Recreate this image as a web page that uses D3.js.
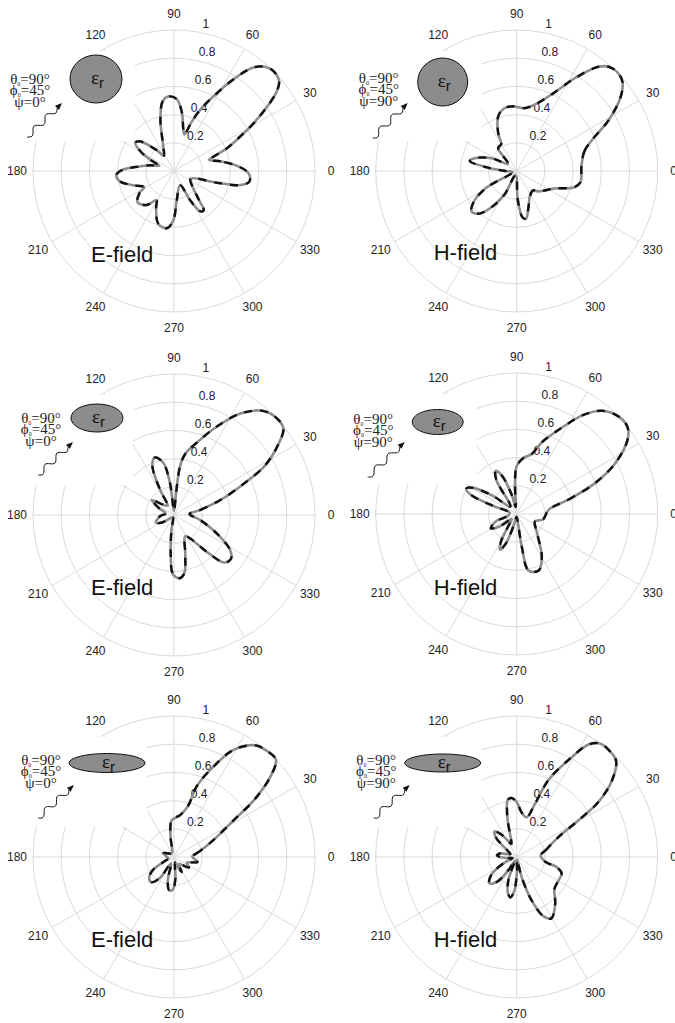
<!DOCTYPE html>
<html>
<head>
<meta charset="utf-8">
<script src="https://cdn.jsdelivr.net/npm/d3@7"></script>
<style>
  body { margin: 0; background: #fff; }
  svg { display: block; }
</style>
</head>
<body>
<div id="chart"></div>
<script>
// angle ticks and ring ticks of every polar panel
const angleTicks = [0, 30, 60, 90, 120, 150, 180, 210, 240, 270, 300, 330];
const ringTicks = [0.2, 0.4, 0.6, 0.8, 1];
const ringLabels = ['0.2', '0.4', '0.6', '0.8', '1'];
const fieldNames = ['E-field', 'H-field', 'E-field', 'H-field', 'E-field', 'H-field'];
const psiValues = [0, 90, 0, 90, 0, 90];
const theta0 = 90;
const phi0 = 45;

// normalised patterns, [angle in degrees, |F|]
const eCircle = [[4.6,.45],[11.5,.34],[17.8,.26],[20,.30],[23.3,.41],[27.5,.53],[31,.66],[34.8,.81],[37.7,.92],[40.5,.98],[45,1.0],[49,.98],[52.7,.92],[56.9,.78],[62.1,.60],[66.9,.47],[70.3,.37],[74,.27],[77.2,.30],[82.4,.42],[87.8,.51],[94.4,.53],[99.3,.50],[104.7,.38],[113.7,.19],[123.7,.13],[129.5,.19],[139,.32],[144,.34],[150,.27],[155,.18],[160,.11],[166,.17],[172.7,.25],[179,.37],[184,.41],[191,.39],[199,.31],[208.6,.24],[212.5,.29],[220.7,.34],[231.2,.31],[239,.24],[244,.29],[253.3,.39],[262.7,.41],[269.2,.35],[275.3,.21],[293.2,.11],[299,.24],[303,.34],[307,.35],[311.4,.26],[320,.17],[335,.13],[344.7,.32],[348,.48],[352,.54],[358.2,.53]];

const hCircle = [[3.8,.46],[16.2,.50],[22.5,.58],[29.1,.75],[35.7,.91],[40,.98],[44,1.0],[48,.99],[51.9,.94],[57.8,.78],[65.3,.60],[74.5,.49],[82.4,.45],[94.5,.46],[102.2,.45],[108.6,.41],[116,.30],[120,.22],[129,.21],[140,.08],[153,.20],[163,.31],[168,.34],[173,.22],[180,.08],[195,.03],[209,.25],[216,.38],[222,.43],[229,.40],[236,.30],[243,.18],[255,.03],[272,.20],[277,.33],[281,.345],[288,.27],[298,.20],[310,.18],[316.4,.21],[335.7,.30],[343.9,.42],[350.4,.46]];

const eEllipse = [[3.7,.11],[10.9,.19],[18.1,.35],[24.1,.54],[28.4,.73],[33.6,.88],[38.4,.99],[43.8,1.0],[49.6,.97],[56.8,.86],[64,.70],[72.4,.54],[79.6,.44],[82.9,.35],[84.7,.15],[89,.03],[97.2,.23],[101.7,.38],[108.5,.43],[113.8,.38],[119,.20],[124,.08],[135,.10],[146,.19],[155,.12],[170,.06],[185,.10],[203,.14],[212,.10],[225,.03],[250,.02],[260,.10],[265,.27],[269,.42],[275,.45],[280,.42],[286,.29],[297.6,.17],[304.4,.20],[311.7,.35],[316.6,.49],[322.3,.51],[328,.47],[336.7,.33],[349.1,.19]];

const hEllipse = [[7.8,.23],[15.5,.38],[21.6,.60],[27.4,.79],[34,.95],[38.3,1.0],[43.7,1.0],[50.4,.95],[56.4,.84],[62.4,.69],[70.6,.54],[75.8,.44],[83.2,.40],[90,.34],[93.4,.20],[98,.05],[105,.15],[111,.29],[116,.34],[121,.28],[130,.07],[143,.22],[149,.36],[153,.40],[157,.36],[161,.18],[170,.05],[190,.06],[200,.16],[209,.21],[216,.15],[225,.05],[235,.10],[240,.22],[245,.28],[250,.22],[258,.05],[266,.02],[278.8,.23],[281.8,.41],[291.3,.43],[300.6,.35],[316.5,.20],[338.2,.14],[348,.19]];

const eFlat = [[2,.13],[9,.16],[13,.19],[23,.30],[31.7,.50],[35.5,.70],[39.8,.89],[43.7,1.0],[48.9,1.0],[53.9,.98],[60.9,.87],[66.4,.70],[72.1,.53],[74.8,.37],[81.8,.30],[93.6,.26],[99.5,.15],[108,.04],[125,.03],[160,.08],[180,.05],[195,.04],[205,.08],[212,.18],[220,.23],[228,.24],[236,.18],[245,.05],[255,.17],[262,.24],[268,.23],[274,.15],[280,.04],[290,.07],[297,.12],[305,.06],[315,.08],[325,.13],[335,.10],[348,.17],[356,.14]];

const hFlat = [[4,.17],[13.2,.21],[25.6,.33],[30.7,.51],[34,.70],[38.9,.87],[44,.98],[48.8,1.0],[53.5,1.0],[57.3,.95],[61.9,.78],[67.6,.59],[71,.40],[76,.29],[84,.32],[90,.39],[95,.42],[99,.41],[102,.33],[104,.26],[107,.15],[112,.10],[118,.13],[125,.20],[131,.24],[137,.20],[145,.08],[155,.05],[168,.12],[176,.14],[185,.08],[195,.03],[205,.10],[215,.22],[224,.27],[232,.22],[238,.10],[243,.03],[250,.17],[256,.26],[261,.29],[266,.24],[271,.10],[277,.02],[284,.15],[289.1,.33],[294.2,.46],[299.5,.50],[309.4,.43],[320,.35],[330.8,.34],[339.7,.34],[346,.29],[350,.21]];

const patterns = [eCircle, hCircle, eEllipse, hEllipse, eFlat, hFlat];

// layout of each panel (centre, white inset box, scatterer, annotation)
const layout = [
  { cx: 174,   cy: 171, maskR: -39, ex: -78, ey: -92, rx: 26, ry: 24,   tx: -144, ty: -87, w0: [-147, -34], w1: [-112, -68], ly: 91 },
  { cx: 516.7, cy: 171, maskR: -35, ex: -74, ey: -89, rx: 25, ry: 24,   tx: -138, ty: -88, w0: [-144, -33], w1: [-109, -68], ly: 89 },
  { cx: 174,   cy: 515, maskR: -41, ex: -77, ey: -97, rx: 26, ry: 14,   tx: -133, ty: -92, w0: [-136, -40], w1: [-101, -73], ly: 80 },
  { cx: 516.7, cy: 514, maskR: -40, ex: -79, ey: -92, rx: 25.5, ry: 12.5, tx: -143.5, ty: -90, w0: [-149, -37], w1: [-112, -72], ly: 81 },
  { cx: 174,   cy: 857, maskR: -27, ex: -67, ey: -94, rx: 38, ry: 9.5,  tx: -133, ty: -92, w0: [-136, -39], w1: [-100, -72], ly: 90 },
  { cx: 516.7, cy: 857, maskR: -35, ex: -74, ey: -94, rx: 38, ry: 9,    tx: -140.5, ty: -92, w0: [-143, -39], w1: [-107, -72], ly: 90 }
];

const width = 675, height = 1023;
const R = 141;
const labelR = 157;
const box = { x0: -185, y0: -120, y1: -30 };
const gridColor = '#d9d9d9';
const sans = 'Liberation Sans, Arial, sans-serif';
const serif = 'Liberation Serif, Times New Roman, serif';

const svg = d3.select('#chart').append('svg')
  .attr('width', width)
  .attr('height', height);

svg.append('rect').attr('width', width).attr('height', height).attr('fill', '#fff');

const rScale = d3.scaleLinear().domain([0, 1]).range([0, R]);
const rad = deg => deg * Math.PI / 180;

const radial = d3.lineRadial()
  .angle(d => rad(90 - d[0]))
  .radius(d => rScale(d[1]))
  .curve(d3.curveCatmullRomClosed.alpha(0.5));

// wavy incident-wave arrow
function wavePath(p0, p1) {
  const dx = p1[0] - p0[0], dy = p1[1] - p0[1];
  const L = Math.hypot(dx, dy);
  const ux = dx / L, uy = dy / L, nx = -uy, ny = ux;
  const pts = [];
  for (let i = 0; i <= 40; i++) {
    const t = i / 40;
    const a = 3 * Math.sin(t * 2.5 * 2 * Math.PI);
    const s = t * (L - 7);
    pts.push([p0[0] + ux * s + nx * a, p0[1] + uy * s + ny * a]);
  }
  pts.push([p1[0] - ux * 4, p1[1] - uy * 4]);
  return d3.line().curve(d3.curveBasis)(pts);
}

function arrowHead(p0, p1) {
  const dx = p1[0] - p0[0], dy = p1[1] - p0[1];
  const L = Math.hypot(dx, dy);
  const ux = dx / L, uy = dy / L, nx = -uy, ny = ux;
  const bx = p1[0] - ux * 7, by = p1[1] - uy * 7;
  return `M${p1[0]},${p1[1]}L${bx + nx * 2.8},${by + ny * 2.8}L${bx - nx * 2.8},${by - ny * 2.8}Z`;
}

layout.forEach((p, i) => {
  const g = svg.append('g').attr('transform', `translate(${p.cx},${p.cy})`);

  // rings
  g.selectAll('.ring')
    .data(ringTicks)
    .enter()
    .append('circle')
    .attr('class', 'ring')
    .attr('r', d => rScale(d))
    .attr('fill', 'none')
    .attr('stroke', gridColor)
    .attr('stroke-width', 1);

  // spokes through the centre
  g.selectAll('.spoke')
    .data(angleTicks.filter(a => a < 180))
    .enter()
    .append('line')
    .attr('class', 'spoke')
    .attr('x1', d => -R * Math.cos(rad(d)))
    .attr('y1', d => R * Math.sin(rad(d)))
    .attr('x2', d => R * Math.cos(rad(d)))
    .attr('y2', d => -R * Math.sin(rad(d)))
    .attr('stroke', gridColor)
    .attr('stroke-width', 1);

  // white box of the inset picture, pasted over the grid
  g.append('rect')
    .attr('x', box.x0)
    .attr('y', box.y0)
    .attr('width', p.maskR - box.x0)
    .attr('height', box.y1 - box.y0)
    .attr('fill', '#fff');

  // angle labels (the one under the inset box is not seen)
  const hidden = a => {
    const x = labelR * Math.cos(rad(a)), y = -labelR * Math.sin(rad(a));
    return x > box.x0 && x < p.maskR && y > box.y0 && y < box.y1;
  };
  g.selectAll('.alabel')
    .data(angleTicks.filter(a => !hidden(a)))
    .enter()
    .append('text')
    .attr('class', 'alabel')
    .attr('x', d => labelR * Math.cos(rad(d)))
    .attr('y', d => -labelR * Math.sin(rad(d)))
    .attr('text-anchor', 'middle')
    .attr('dominant-baseline', 'central')
    .style('font-family', sans)
    .style('font-size', '12px')
    .style('fill', '#222')
    .text(d => d);

  // ring labels
  g.selectAll('.rlabel')
    .data(ringTicks)
    .enter()
    .append('text')
    .attr('class', 'rlabel')
    .attr('x', d => rScale(d) * Math.cos(rad(82)) + 9)
    .attr('y', d => -rScale(d) * Math.sin(rad(82)) - 3)
    .style('font-family', sans)
    .style('font-size', '12px')
    .style('fill', '#222')
    .text((d, j) => ringLabels[j]);

  // scatterer
  g.append('ellipse')
    .attr('cx', p.ex)
    .attr('cy', p.ey)
    .attr('rx', p.rx)
    .attr('ry', p.ry)
    .attr('fill', '#8c8c8c')
    .attr('stroke', '#111')
    .attr('stroke-width', 1);

  const eps = g.append('text')
    .attr('x', p.ex - 5)
    .attr('y', p.ey + 5)
    .style('fill', '#111');
  eps.append('tspan').style('font-family', serif).style('font-size', '19px').text('ε');
  eps.append('tspan').attr('dy', 4).style('font-family', sans).style('font-size', '15px').text('r');

  // incidence annotation, each line centred on tx
  const lines = [
    { sym: 'θ', sub: '0', val: `=${theta0}°` },
    { sym: 'ϕ', sub: '0', val: `=${phi0}°` },
    { sym: 'ψ', sub: '', val: `=${psiValues[i]}°` }
  ];
  lines.forEach((ln, k) => {
    const t = g.append('text')
      .attr('x', 0)
      .attr('y', p.ty + k * 11.3)
      .style('font-family', serif)
      .style('font-size', '15px')
      .style('fill', '#222');
    t.append('tspan').text(ln.sym);
    if (ln.sub) {
      t.append('tspan').attr('dy', 2).style('font-size', '6px').text(ln.sub);
      t.append('tspan').attr('dy', -2).text(ln.val);
    } else {
      t.append('tspan').text(ln.val);
    }
    const w = t.node().getComputedTextLength();
    t.attr('x', p.tx - w / 2);
  });

  g.append('path')
    .attr('d', wavePath(p.w0, p.w1))
    .attr('fill', 'none')
    .attr('stroke', '#111')
    .attr('stroke-width', 1);
  g.append('path')
    .attr('d', arrowHead(p.w0, p.w1))
    .attr('fill', '#111');

  // field name
  g.append('text')
    .attr('x', -83)
    .attr('y', p.ly)
    .style('font-family', sans)
    .style('font-size', '22px')
    .style('fill', '#111')
    .text(fieldNames[i]);

  // pattern: grey solid with black dashes on top
  g.append('path')
    .datum(patterns[i])
    .attr('d', radial)
    .attr('fill', 'none')
    .attr('stroke', '#8c8c8c')
    .attr('stroke-width', 2.6)
    .attr('stroke-linejoin', 'round');
  g.append('path')
    .datum(patterns[i])
    .attr('d', radial)
    .attr('fill', 'none')
    .attr('stroke', '#111')
    .attr('stroke-width', 2.4)
    .attr('stroke-dasharray', '8,8');
});
</script>
</body>
</html>
